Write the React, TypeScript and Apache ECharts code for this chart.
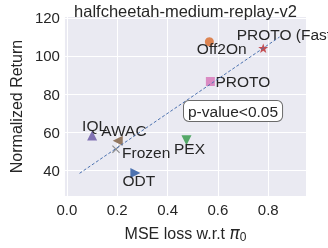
import React, { useEffect, useRef } from "react";
import * as echarts from "echarts";

const methods = ["ODT", "Off2On", "PEX", "PROTO (Fast)", "IQL", "AWAC", "PROTO", "Frozen"];
const mseLoss = [0.272, 0.566, 0.475, 0.78, 0.1, 0.202, 0.57, 0.195];
const normReturn = [38.5, 107.5, 55.7, 104.1, 58.2, 55.4, 86.6, 51.0];
const trendX = [0.05, 0.845];
const trendY = [38.3, 110.0];
const xTicks = [0, 0.2, 0.4, 0.6, 0.8];
const yTicks = [40, 60, 80, 100, 120];

const STAR =
  "path://M0,-10L2.35,-3.24L9.51,-3.09L3.8,1.24L5.88,8.09L0,4L-5.88,8.09L-3.8,1.24L-9.51,-3.09L-2.35,-3.24Z";
const CROSS =
  "path://M1,0L5,4L9,0L10,1L6,5L10,9L9,10L5,6L1,10L0,9L4,5L0,1Z";

const markerStyle: Record<string, any> = {
  ODT: { color: "#4c72b0", symbol: "triangle", rotate: -90, size: 10, offset: [-13, 7.5] },
  Off2On: { color: "#dd8452", symbol: "circle", rotate: 0, size: 9, offset: [-12.5, 6.5] },
  PEX: { color: "#55a868", symbol: "triangle", rotate: 180, size: 10, offset: [-12.5, 8.5] },
  "PROTO (Fast)": { color: "#c44e52", symbol: STAR, rotate: 0, size: 10, offset: [-26.5, -13.5] },
  IQL: { color: "#8172b3", symbol: "triangle", rotate: 0, size: 10, offset: [-10, -10.5] },
  AWAC: { color: "#937860", symbol: "triangle", rotate: 90, size: 10, offset: [-16.5, -10.5] },
  PROTO: { color: "#da8bc3", symbol: "rect", rotate: 0, size: 9, offset: [5, 0.5] },
  Frozen: { color: "#8c8c8c", symbol: CROSS, rotate: 0, size: 8, offset: [6, 3] },
};

const FONT = "'Liberation Sans', Arial, sans-serif";
const TXT = "#262626";

export default function App() {
  const ref = useRef<HTMLDivElement>(null);
  useEffect(() => {
    if (!ref.current) return;
    const chart = echarts.init(ref.current, undefined, { renderer: "svg" });
    const pts = methods.map((m, i) => {
      const s = markerStyle[m];
      return {
        name: m,
        value: [mseLoss[i], normReturn[i]],
        symbol: s.symbol,
        symbolRotate: s.rotate,
        symbolSize: s.size,
        symbolKeepAspect: true,
        itemStyle: { color: s.color, opacity: 1 },
        label: {
          show: true,
          position: "inside",
          align: "left",
          verticalAlign: "middle",
          offset: s.offset,
          formatter: m,
          color: TXT,
          fontSize: 15.5,
          fontFamily: FONT,
        },
      };
    });
    chart.setOption({
      animation: false,
      textStyle: { fontFamily: FONT },
      title: {
        text: "halfcheetah-medium-replay-v2",
        left: 180.5,
        textAlign: "center",
        top: -3,
        textStyle: { fontSize: 16.5, fontWeight: "normal", color: TXT, fontFamily: FONT },
      },
      grid: {
        left: 55,
        right: 22,
        top: 17,
        bottom: 45,
        show: true,
        backgroundColor: "#EAEAF2",
        borderWidth: 0,
      },
      xAxis: {
        type: "value",
        min: -0.008,
        max: 0.95,
        name: "{t|MSE loss w.r.t }{pi|π}{sub|0}",
        nameLocation: "middle",
        nameGap: 27,
        nameTextStyle: {
          rich: {
            t: { fontSize: 16, color: TXT, fontFamily: FONT },
            pi: { fontSize: 17, color: TXT, fontStyle: "italic", fontFamily: "'DejaVu Sans', sans-serif" },
            sub: { fontSize: 12, color: TXT, fontFamily: FONT, padding: [8, 0, 0, 0] },
          },
        },
        axisLine: { show: false },
        axisTick: { show: false, customValues: xTicks },
        axisLabel: {
          customValues: xTicks,
          formatter: (v: number) => v.toFixed(1),
          fontSize: 15,
          color: TXT,
          margin: 6,
          fontFamily: FONT,
        },
        splitLine: { show: true, lineStyle: { color: "#ffffff", width: 1 } },
      },
      yAxis: {
        type: "value",
        min: 26.4,
        max: 120.5,
        name: "Normalized Return",
        nameLocation: "middle",
        nameGap: 39,
        nameTextStyle: { fontSize: 16, color: TXT, fontFamily: FONT },
        axisLine: { show: false },
        axisTick: { show: false, customValues: yTicks },
        axisLabel: {
          customValues: yTicks,
          fontSize: 15,
          color: TXT,
          margin: 5,
          fontFamily: FONT,
        },
        splitLine: { show: true, lineStyle: { color: "#ffffff", width: 1 } },
      },
      series: [
        {
          type: "scatter",
          data: pts,
          z: 2,
        },
        {
          type: "line",
          data: trendX.map((x, i) => [x, trendY[i]]),
          symbol: "none",
          z: 3,
          lineStyle: { color: "#4c72b0", width: 1, type: [3, 2] },
        },
      ],
      graphic: [
        {
          type: "text",
          left: 183,
          top: 100,
          z: 10,
          style: {
            text: "p-value<0.05",
            fontSize: 15.5,
            fontFamily: FONT,
            fill: TXT,
            backgroundColor: "#ffffff",
            borderColor: "#6a6a6a",
            borderWidth: 1,
            borderRadius: 5,
            padding: [2, 4, 2, 4],
          },
        },
      ],
    });
    return () => chart.dispose();
  }, []);
  return (
    <div
      ref={ref}
      style={{ width: 328, height: 248, position: "fixed", left: 0, top: 0 }}
    />
  );
}
